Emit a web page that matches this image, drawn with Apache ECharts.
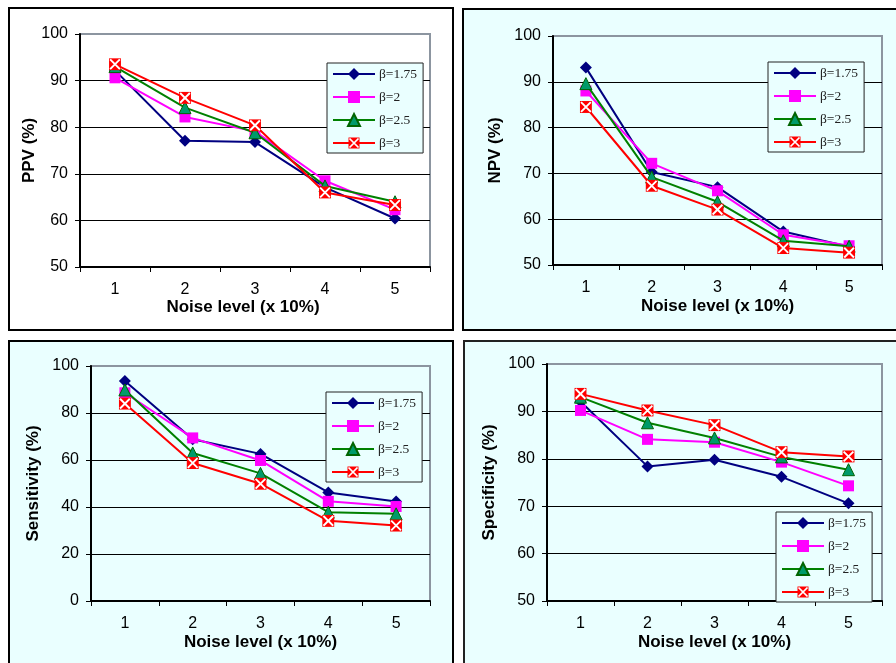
<!DOCTYPE html>
<html>
<head>
<meta charset="utf-8">
<script src="https://cdn.jsdelivr.net/npm/echarts@6/dist/echarts.min.js"></script>
<style>
html,body{margin:0;padding:0;background:#fff;}
#c{width:896px;height:663px;}
</style>
</head>
<body>
<div id="c"></div>
<script>
const categories = ['1', '2', '3', '4', '5'];
const seriesNames = ['β=1.75', 'β=2', 'β=2.5', 'β=3'];

const ppv_b175 = [92.2, 77.1, 76.8, 67.1, 60.4];
const ppv_b2   = [90.6, 82.2, 79.1, 68.5, 62.3];
const ppv_b25  = [93.0, 84.2, 78.8, 67.4, 64.0];
const ppv_b3   = [93.5, 86.3, 80.4, 66.0, 63.3];

const npv_b175 = [93.1, 70.3, 67.0, 57.3, 54.0];
const npv_b2   = [88.0, 72.2, 66.2, 56.6, 54.2];
const npv_b25  = [89.6, 69.2, 63.8, 55.3, 54.1];
const npv_b3   = [84.5, 67.3, 62.1, 53.7, 52.7];

const sens_b175 = [93.6, 68.8, 62.6, 46.2, 42.3];
const sens_b2   = [88.6, 69.4, 59.8, 42.4, 40.2];
const sens_b25  = [89.8, 63.0, 54.3, 37.8, 37.1];
const sens_b3   = [84.0, 58.7, 49.9, 34.1, 32.1];

const spec_b175 = [92.1, 78.4, 79.8, 76.2, 70.6];
const spec_b2   = [90.2, 84.1, 83.5, 79.3, 74.3];
const spec_b25  = [93.0, 87.6, 84.4, 80.4, 77.7];
const spec_b3   = [93.7, 90.2, 87.1, 81.4, 80.5];

const yTitles = ['PPV (%)', 'NPV (%)', 'Sensitivity (%)', 'Specificity (%)'];
const xTitle = 'Noise level (x 10%)';
const yMins = [50, 50, 0, 50];
const yMaxs = [100, 100, 100, 100];
const yIntervals = [10, 10, 20, 10];

const panelData = [
  [ppv_b175, ppv_b2, ppv_b25, ppv_b3],
  [npv_b175, npv_b2, npv_b25, npv_b3],
  [sens_b175, sens_b2, sens_b25, sens_b3],
  [spec_b175, spec_b2, spec_b25, spec_b3]
];

const FONT = "'Liberation Sans', Arial, sans-serif";
const CYAN = '#EAFFFF';
const GRAYB = '#8c95a0';

const xSvg = "<svg xmlns='http://www.w3.org/2000/svg' width='24' height='24' viewBox='0 0 24 24'><rect x='1' y='1' width='22' height='22' fill='#ff0000'/><path d='M3 3L21 21M21 3L3 21' stroke='#ffffff' stroke-width='3.5'/></svg>";
const xSymbol = 'image://data:image/svg+xml;charset=utf-8,' + encodeURIComponent(xSvg);

const styles = [
  {color: '#000080', symbol: 'diamond', size: 12, border: '#000080'},
  {color: '#FF00FF', symbol: 'rect', size: 11, border: '#FF00FF'},
  {color: '#008000', symbol: 'triangle', size: 12, border: '#006400', fill: '#009a6a'},
  {color: '#FF0000', symbol: xSymbol, size: 13, border: '#FF0000'}
];

const grids = [
  {left: 80, top: 34, width: 350, height: 233},
  {left: 553, top: 36, width: 329, height: 229},
  {left: 91, top: 366, width: 339, height: 235},
  {left: 547, top: 364, width: 335, height: 237}
];
const yNameGaps = [37, 49, 49, 49];
const xNameGaps = [31, 33, 33, 33];
const xNamePad = [[0, 24, 0, 0], 0, 0, 0];
const legendPos = [
  {left: 327, top: 63},
  {left: 768, top: 62},
  {left: 326, top: 392},
  {left: 776, top: 512}
];

const option = {
  animation: false,
  backgroundColor: '#ffffff',
  graphic: [
    {type: 'rect', z: -10, shape: {x: 9, y: 8, width: 444, height: 322}, style: {fill: '#ffffff', stroke: '#000', lineWidth: 2}},
    {type: 'rect', z: -10, shape: {x: 463, y: 9, width: 500, height: 321}, style: {fill: CYAN, stroke: '#000', lineWidth: 2}},
    {type: 'rect', z: -10, shape: {x: 9, y: 341, width: 444, height: 400}, style: {fill: CYAN, stroke: '#000', lineWidth: 2}},
    {type: 'rect', z: -10, shape: {x: 464, y: 341, width: 500, height: 400}, style: {fill: CYAN, stroke: '#222', lineWidth: 2}}
  ],
  grid: grids.map(g => Object.assign({show: true, borderColor: GRAYB, borderWidth: 2, backgroundColor: 'transparent', containLabel: false}, g)),
  legend: legendPos.map((p, i) => ({
    data: seriesNames.map(n => ({name: n})),
    orient: 'vertical',
    left: p.left,
    top: p.top,
    backgroundColor: CYAN,
    borderColor: '#222',
    borderWidth: 1,
    borderRadius: 0,
    padding: [4, 6, 3, 5],
    itemWidth: 42,
    itemHeight: 15,
    itemGap: 9,
    textStyle: {fontFamily: "'Liberation Serif', 'Times New Roman', serif", fontSize: 13.5, color: '#222', padding: [0, 0, 0, -1]},
    selectedMode: false,
    z: 5
  })),
  xAxis: grids.map((g, i) => ({
    type: 'category',
    gridIndex: i,
    data: categories,
    boundaryGap: true,
    name: xTitle,
    nameLocation: 'middle',
    nameGap: xNameGaps[i],
    nameTextStyle: {fontFamily: FONT, fontWeight: 'bold', fontSize: 17, color: '#000', padding: xNamePad[i]},
    axisLine: {show: true, lineStyle: {color: '#000', width: 2}},
    axisTick: {show: true, length: 5, lineStyle: {color: '#000', width: 1}},
    axisLabel: {fontFamily: FONT, fontSize: 16, color: '#000', margin: 15},
    splitLine: {show: false}
  })),
  yAxis: grids.map((g, i) => ({
    type: 'value',
    gridIndex: i,
    min: yMins[i],
    max: yMaxs[i],
    interval: yIntervals[i],
    name: yTitles[i],
    nameLocation: 'middle',
    nameGap: yNameGaps[i],
    nameRotate: 90,
    nameTextStyle: {fontFamily: FONT, fontWeight: 'bold', fontSize: 17, color: '#000'},
    axisLine: {show: true, lineStyle: {color: '#000', width: 2}},
    axisTick: {show: true, length: 5, lineStyle: {color: '#000', width: 1}},
    axisLabel: {fontFamily: FONT, fontSize: 16, color: '#000', margin: 12},
    splitLine: {show: true, lineStyle: {color: ['#000', '#000', '#000', '#000', '#000', GRAYB], width: 1}}
  })),
  series: []
};

panelData.forEach((set, pi) => {
  set.forEach((vals, si) => {
    const s = styles[si];
    option.series.push({
      type: 'line',
      name: seriesNames[si],
      xAxisIndex: pi,
      yAxisIndex: pi,
      data: vals,
      symbol: s.symbol,
      symbolSize: s.size,
      showAllSymbol: true,
      lineStyle: {color: s.color, width: 2},
      itemStyle: {color: s.fill || s.color, borderColor: s.border, borderWidth: si === 2 ? 1 : 0},
      z: 2 + si
    });
  });
});

const chart = echarts.init(document.getElementById('c'), null, {renderer: 'canvas'});
chart.setOption(option);
</script>
</body>
</html>
